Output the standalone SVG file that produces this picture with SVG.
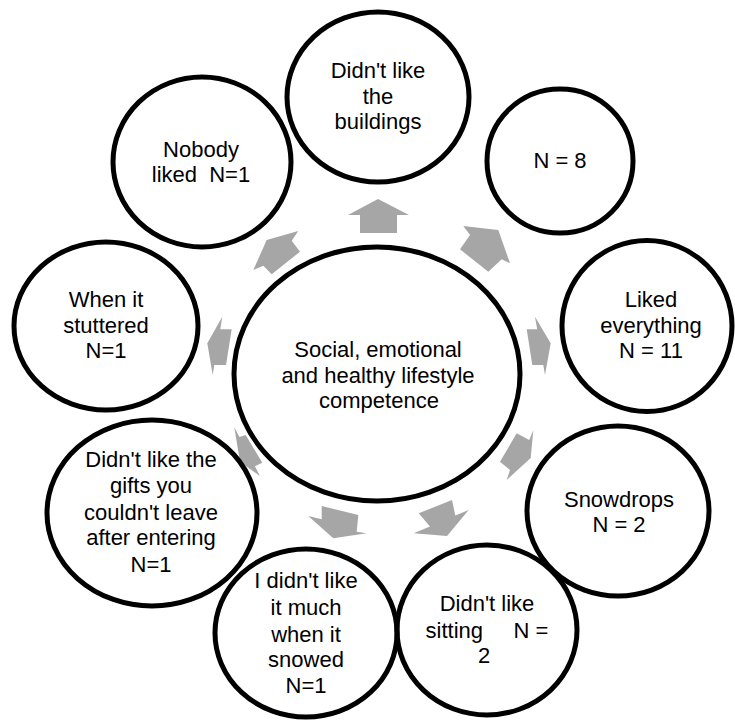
<svg xmlns="http://www.w3.org/2000/svg" width="735" height="720" viewBox="0 0 735 720">
<style>
  .c { fill: none; stroke: #000; stroke-width: 5; }
  .t { font-family: "Liberation Sans", Arial, sans-serif; font-size: 22px; fill: #000; text-anchor: middle; }
  .a { fill: #a6a6a6; stroke: none; }
</style>
<rect width="735" height="720" fill="#fff"/>
<g id="connectors">
  <polygon class="a" points="378,199 409,215 397,215 397,233 360,233 360,215 348,215"/>
  <polygon class="a" points="498.3,230 510,263.3 501.7,259.3 488.3,271.7 460,249.3 470,235 463.3,226"/>
  <polygon class="a" points="550.7,343.3 545,375 543.3,365 532.3,365 526.7,329.3 537.2,329.3 535,316.7"/>
  <polygon class="a" points="530.7,458 506.7,480 510,470 500,461.7 516.7,433.3 529.3,440 533.3,430"/>
  <polygon class="a" points="447,536 468.7,510 455.3,515.6 452,500 418.7,513.3 430,526.4 413.7,533.3"/>
  <polygon class="a" points="333.3,538.3 308.3,516 321.7,519.3 321.7,506 358.3,515 356.7,531.7 366.7,533.3"/>
  <polygon class="a" points="240,461.7 234.3,427.3 239.4,437 245.7,435 262.3,462.7 254.9,466.3 260,476"/>
  <polygon class="a" points="207.3,343.3 222.3,316.7 220.3,329.3 231.7,329.3 226,365 214.3,365 212.7,375"/>
  <polygon class="a" points="266.7,240 298.3,231 291.7,240.7 300,251.7 271.7,274.3 263.3,265.7 253.3,270"/>
</g>
<g id="center">
  <ellipse class="c" cx="377" cy="374" rx="143" ry="127"/>
  <text class="t"><tspan x="378" y="357">Social, emotional</tspan><tspan x="378" y="382.5">and healthy lifestyle</tspan><tspan x="379" y="408">competence</tspan></text>
</g>
<g id="n-buildings">
  <ellipse class="c" cx="378" cy="97" rx="91" ry="85"/>
  <text class="t"><tspan x="378" y="78">Didn't like</tspan><tspan x="378" y="104">the</tspan><tspan x="378" y="129">buildings</tspan></text>
</g>
<g id="n-n8">
  <ellipse class="c" cx="560" cy="161" rx="73" ry="72"/>
  <text class="t" x="560" y="168">N = 8</text>
</g>
<g id="n-liked">
  <ellipse class="c" cx="647" cy="326" rx="85" ry="85.5"/>
  <text class="t"><tspan x="651" y="307">Liked</tspan><tspan x="651" y="333">everything</tspan><tspan x="651" y="358">N = 11</tspan></text>
</g>
<g id="n-snowdrops">
  <ellipse class="c" cx="618" cy="511" rx="91" ry="85"/>
  <text class="t"><tspan x="619" y="507">Snowdrops</tspan><tspan x="619" y="532">N = 2</tspan></text>
</g>
<g id="n-sitting">
  <ellipse class="c" cx="487" cy="630" rx="90" ry="85"/>
  <text class="t" xml:space="preserve" style="white-space:pre"><tspan x="487" y="611">Didn't like</tspan><tspan x="487" y="638">sitting     N =</tspan><tspan x="484" y="663">2</tspan></text>
</g>
<g id="n-snowed">
  <ellipse class="c" cx="306" cy="633" rx="91" ry="84"/>
  <text class="t"><tspan x="306" y="588">I didn't like</tspan><tspan x="306" y="615">it much</tspan><tspan x="306" y="641.5">when it</tspan><tspan x="306" y="667">snowed</tspan><tspan x="306" y="693">N=1</tspan></text>
</g>
<g id="n-gifts">
  <ellipse class="c" cx="152" cy="513" rx="105" ry="93"/>
  <text class="t"><tspan x="151" y="466.5">Didn't like the</tspan><tspan x="151" y="493">gifts you</tspan><tspan x="151" y="519.5">couldn't leave</tspan><tspan x="151" y="545">after entering</tspan><tspan x="151" y="571.5">N=1</tspan></text>
</g>
<g id="n-stuttered">
  <ellipse class="c" cx="106" cy="326" rx="92" ry="84"/>
  <text class="t"><tspan x="106" y="307">When it</tspan><tspan x="106" y="333">stuttered</tspan><tspan x="106" y="358">N=1</tspan></text>
</g>
<g id="n-nobody">
  <ellipse class="c" cx="202" cy="162" rx="89" ry="85"/>
  <text class="t" xml:space="preserve" style="white-space:pre"><tspan x="201" y="157">Nobody</tspan><tspan x="201" y="182">liked  N=1</tspan></text>
</g>
</svg>
